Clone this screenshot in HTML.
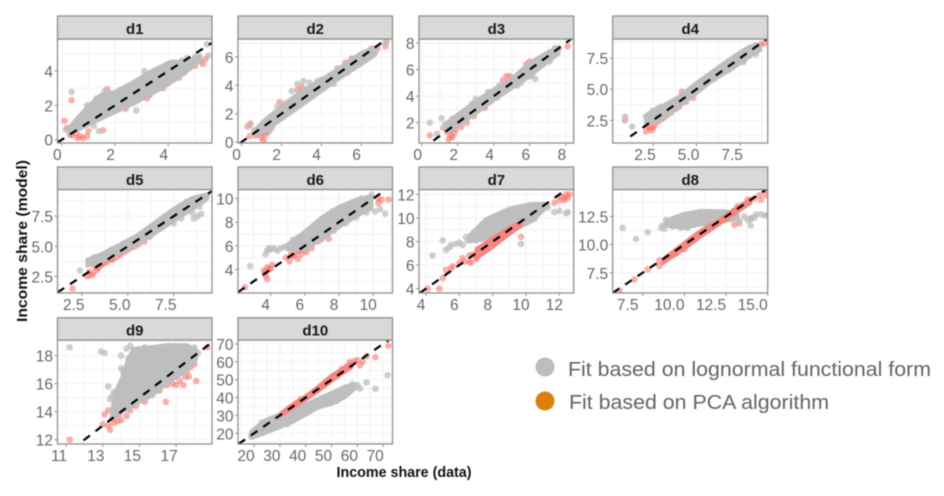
<!DOCTYPE html>
<html lang="en">
<head>
<meta charset="utf-8">
<title>Income share: model vs data</title>
<style>
html,body{margin:0;padding:0;background:#fff;width:944px;height:496px;overflow:hidden}
svg{display:block;filter:blur(.55px);font-family:"Liberation Sans",sans-serif}
</style>
</head>
<body>
<svg id="chart" width="944" height="496" viewBox="0 0 944 496">
<text x="404" y="477" text-anchor="middle" font-size="15" font-weight="bold" fill="#111" textLength="135" lengthAdjust="spacingAndGlyphs">Income share (data)</text>
<text transform="translate(27,241) rotate(-90)" text-anchor="middle" font-size="15" font-weight="bold" fill="#111" textLength="162" lengthAdjust="spacingAndGlyphs">Income share (model)</text>
<g>
<circle cx="545" cy="367" r="9.5" fill="#bdbdbd"/>
<text x="568" y="376" font-size="20" fill="#636363" textLength="363" lengthAdjust="spacingAndGlyphs">Fit based on lognormal functional form</text>
<circle cx="545" cy="401" r="9.5" fill="#de7f12"/>
<text x="569" y="409" font-size="20" fill="#636363" textLength="260" lengthAdjust="spacingAndGlyphs">Fit based on PCA algorithm</text>
</g>
</svg>
<script>
const categories = ['d1','d2','d3','d4','d5','d6','d7','d8','d9','d10'];

const xDomains = [[-0.16,5.64],[-0.18,7.55],[-0.15,8.44],[0.19,9.08],[1.18,9.58],[2.09,11.13],[3.58,12.86],[5.7,15.0],[10.53,18.96],[13.8,73.6]];
const yDomains = [[-0.19,5.86],[-0.07,7.27],[0.47,8.3],[0.68,9.03],[1.13,9.71],[2.02,10.76],[3.63,12.42],[5.7,14.9],[11.69,19.12],[14,72.2]];

const xTicks = [[0,2,4],[0,2,4,6],[0,2,4,6,8],[2.5,5,7.5],[2.5,5,7.5],[4,6,8,10],[4,6,8,10,12],[7.5,10,12.5,15],[11,13,15,17],[20,30,40,50,60,70]];
const yTicks = [[0,2,4],[0,2,4,6],[2,4,6,8],[2.5,5,7.5],[2.5,5,7.5],[4,6,8,10],[4,6,8,10,12],[7.5,10,12.5],[12,14,16,18],[20,30,40,50,60,70]];
const xTickLabels = [['0','2','4'],['0','2','4','6'],['0','2','4','6','8'],['2.5','5.0','7.5'],['2.5','5.0','7.5'],['4','6','8','10'],['4','6','8','10','12'],['7.5','10.0','12.5','15.0'],['11','13','15','17'],['20','30','40','50','60','70']];
const yTickLabels = [['0','2','4'],['0','2','4','6'],['2','4','6','8'],['2.5','5.0','7.5'],['2.5','5.0','7.5'],['4','6','8','10'],['4','6','8','10','12'],['7.5','10.0','12.5'],['12','14','16','18'],['20','30','40','50','60','70']];

/* dense core of each lognormal cloud: x, lower y, upper y */
const lognormalCoreX = [[0.3,0.9,1.44,2,2.7,3.3,4.06,4.7,5.2],[0.7,1.2,2,3,4,5,6,6.7],[1.4,2,3,4,5,6,7,7.6],[2.1,3,4,5,6,7,8,8.6],[2.8,3.5,4.5,5.5,6.5,7.5,8.5,9.3],[5,6,7,8,9,9.9],[6.6,7.6,9,10.3,11,11.3],[8.9,9.9,11,12.5,13.2],[13.5,13.7,14.05,14.4,14.7,15.6,16.5,17.6,18.1],[19,24,30,35,40,45,50,55,59]];
const lognormalCoreLow = [[0.35,0.8,1.2,1.6,2.1,2.6,3.3,4,4.6],[0.5,0.8,1.6,2.6,3.6,4.6,5.5,6.2],[1.3,1.8,2.7,3.7,4.6,5.5,6.6,7.2],[2.2,2.6,3.6,4.7,5.8,6.6,7.6,8.1],[3.4,3.7,4.4,5.2,6.1,7.1,8.1,8.9],[5.7,5.7,6.6,7.6,8.5,9.2],[8,8.2,8.8,9.7,10.6,11],[11.7,11.5,11.8,12.1,12.3],[13.6,13.6,14,14.2,14.5,15.1,16,17,17.8],[17.5,20,23.5,26.5,30.5,34.5,36.5,40,45]];
const lognormalCoreHigh = [[0.75,1.8,2.58,2.78,3.36,3.94,4.52,4.55,4.9],[0.9,1.6,2.5,3.6,4.4,5.3,6.3,6.7],[2,2.6,3.6,4.5,5.3,6.5,7.3,7.7],[2.9,3.6,4.4,5.5,6.5,7.5,8.4,8.6],[3.9,4.3,5.1,5.9,7,8.1,9,9.3],[6.1,7.2,8.4,9.3,9.9,10.2],[8.5,9.9,10.8,11.2,11.2,11.2],[12.1,12.7,13,12.95,12.6],[14,15.4,16.4,17.8,18.5,18.6,18.75,18.75,18.4],[21,27,30.5,33,36,39.5,42.5,46,47.5]];

/* dense core of the PCA cloud where it shows on top of the grey */
const pcaCoreX = [[],[],[],[],[],[],[7,8,9,9.7],[8.7,10,11,12,13,14],[],[30,35,40,45,50,55,58]];
const pcaCoreLow = [[],[],[],[],[],[],[6.5,7.5,8.6,9.3],[8.3,9.6,10.7,11.7,12.7,13.7],[],[29.5,34,38.5,43.5,49,54,57]];
const pcaCoreHigh = [[],[],[],[],[],[],[7.4,8.3,9.2,9.7],[8.7,10.2,11.3,12.1,13.2,14.1],[],[31,36.5,41,46.5,52.5,57,60]];

/* individually visible points [x, y] */
const lognormalPoints = [
 [[0.37,2.78],[0.25,0.6],[1.3,2.4],[1.6,2.8],[5.45,5.55],[5.5,4.9],[5,4.8],[4.5,4.6],[3.1,4],[2.8,1.7],[1.4,0.5],[0.95,2],[1.15,1.9],[3.6,4.1],[4.2,4.5],[4.7,4.75],[2.2,2.9],[0.15,0.6],[1.2,0.8],[2.4,2],[3.5,3.1],[4.4,3.9],[5.1,4.7],[1.8,2.7]],
 [[7.2,7],[0.4,1.2],[0.6,0.8],[1.4,0.8],[3.1,4.3],[3.4,4.2],[3.8,4.3],[4,4.4],[2.5,3.6],[1.8,2.5],[6.7,6.4],[2.8,4.1],[6.3,6],[4.6,4.1],[2.6,3],[3.4,3.8],[5.3,4.9],[4.4,4.6],[6.6,6.2]],
 [[0.45,2],[1.1,2.35],[0.85,1.15],[1.5,1.9],[3,3.8],[1.3,1.9],[6.3,5.3],[5.5,5],[2.2,2.6],[4.3,4.8],[7.1,6.6],[6.1,5.5],[5.3,4.8],[4.2,3.9],[1.7,2.3],[2.6,3.1],[7.4,7.1]],
 [[0.9,2.8],[1.3,2],[2.1,2.8],[2.5,3.3],[3,3.6],[3.4,3.8],[8.4,7.8],[7.7,7.2],[6,5.8],[2.3,3],[2.8,3.5],[3.7,4],[8.6,8.2],[6.6,6.8],[5.4,5.4]],
 [[2.4,3],[8.8,7.5],[9,7.7],[8.6,7.3],[7.5,6.9],[2.9,3.7],[3.3,4],[7,7.5],[8.2,8.7],[8.5,7.8],[8.9,8.3],[7.9,7.3],[6.3,6.6],[5.7,5.7],[4,4.4]],
 [[2.8,4.3],[3.7,5.3],[3.9,5.8],[4.2,5.8],[4.6,5.8],[5,6],[10.1,8.9],[10.7,8.7],[9.6,8.8],[9.9,10.3],[10.4,9.1],[5.3,6.5],[3.8,5.6],[9.3,10],[9,8.4],[5.6,6.7],[4,5.7],[4.4,5.6],[4.8,5.9],[5.2,6.2],[6.6,7.7],[7.6,8.9],[9.8,9.2],[8.4,7.9]],
 [[4.4,6.8],[5,8.1],[5.2,7.3],[5.5,7.7],[6,7.9],[6.5,8.1],[6.2,7.7],[5.8,7.8],[5.4,7.5],[12,10.6],[12.4,10.4],[12.5,10.5],[9.7,7.8],[10.5,9.9],[11.7,10.5],[7.2,8.4],[7,8.1],[11.3,10.9],[6.8,8.3],[6.4,8.4],[7.2,9.1],[8,9.9],[8.6,10.4]],
 [[6.3,11.5],[7.1,10.5],[7.8,11.1],[8.6,11.5],[8.8,11.4],[9.2,12.1],[9.8,11.5],[14,12.3],[14.8,12.6],[14.6,12.7],[14.2,12.4],[13.98,11.7],[13.3,12.1],[15,12.6],[14.3,12.7],[8.7,11.7],[9.3,11.6],[9.1,11.8],[8.9,12.2],[9.5,12.4],[10.2,11.5],[13.6,12.5],[13.8,12.2]],
 [[11.2,18.6],[12.9,18.3],[13.1,18.2],[13.3,15.8],[13.6,15.4],[13.4,14.9],[14.1,16.9],[14.3,16.4],[14,18],[14.3,18.5],[14.5,18.7],[14.7,18.4],[14,17.1],[17.5,18.6],[18,18.6],[13.5,15.1],[14.4,17.8],[16.6,18.7],[16.9,18.7],[13.7,14.6],[14.2,15.9],[14.9,18.3],[15.3,18.6],[18.2,18.2]],
 [[71.7,52.5],[63.5,48.5],[67,45],[60,47],[58,47.5],[61,45],[23,25],[25,26.5],[27,27],[19,19],[56,44],[33,25],[21,21],[23,26],[26,27.5],[29,29.5],[52,38],[38,30],[58,46]]
];
const pcaPoints = [
 [[0.37,2.3],[0.1,1.1],[0.2,0.7],[0.4,0.25],[0.6,0.1],[0.8,0.1],[0.95,0.2],[0.7,0.2],[0.55,0.35],[1,0.5],[1.55,0.55],[1.7,2.95],[1,1.9],[1.4,2.4],[0.8,1.5],[3.2,2.4],[4,3.3],[4.4,3.6],[4.6,3.9],[4.8,4.2],[5,4.3],[5.3,4.4],[5.4,4.7],[5.2,4.6],[4.2,3.5],[3.8,3],[3.3,2.6],[2.4,1.8],[0.3,0.3]],
 [[0.3,1.1],[0.45,1.3],[0.4,0.4],[0.7,0.45],[1,0.3],[1.2,0.5],[1.1,0.1],[1.3,0.7],[1.5,1],[1.1,0.7],[1.9,2.8],[2.2,2.7],[2.8,3.7],[3,3.9],[3.2,3.5],[4.8,5.2],[5.2,5.6],[5.5,5.9],[6,6.1],[6.5,6.6],[6.8,6.6],[7.2,6.75],[7.25,7.1],[1.2,0.9],[0.9,0.6]],
 [[0.45,1.05],[1.2,1.6],[1.5,0.75],[1.6,1],[1.8,1.2],[1.4,1.3],[1.9,1.5],[2.2,1.7],[2.5,2],[2.8,3.4],[3.7,4.3],[4.7,5.5],[4.9,5.5],[4.5,5.2],[5.8,6.4],[6,6.6],[7.4,7.6],[7.6,7.6],[8.1,7.75],[3.5,3.1],[2.9,2.5],[1.7,0.9],[1.6,1.4]],
 [[0.9,2.5],[2.1,1.6],[2.4,1.7],[2.3,1.9],[2.6,2.1],[3,2.6],[3.5,3.1],[4,3.6],[4.4,4],[4.15,4.8],[4.8,4.3],[6.6,7],[7.6,7.2],[8.4,8.5],[8.7,8.6],[8.9,8.7],[2.8,2.4],[3.3,2.9],[3.8,3.4],[2.2,2],[2.5,1.9],[3.1,2.7]],
 [[2.8,2.5],[3,2.6],[2.9,2.9],[3.3,3],[3.5,3.4],[3.9,3.7],[4.2,3.9],[4.6,4.3],[5,4.7],[5.4,5],[5.9,5.4],[6.2,5.8],[3.2,4.1],[3.6,3.5],[2,1.5],[9,9.1],[9.3,9.2],[4,4],[4.8,4.5],[5.2,4.9],[3.1,2.7],[4.4,4.1],[5.6,5.2],[3.4,3.2],[3.7,3.6],[4.1,3.9],[3.2,3.3],[4.5,4.4],[5.1,4.9]],
 [[2.5,2.5],[3.6,3.9],[3.8,4.2],[3.7,3.5],[3.8,3.2],[4.1,4.4],[4.9,5],[5.1,4.7],[5.3,5.1],[5.5,5.5],[5.8,5.3],[6,5.7],[5.6,4.9],[6.2,6],[6.5,6.3],[7.2,6.9],[7.7,7.3],[8,7.8],[10.3,9.6],[10.5,9.9],[10.9,9.9],[10.3,10],[6.1,5.5],[5.9,6],[6.8,6.4],[3.9,4],[5.2,5.3],[3.7,3.8],[4,4.1],[5.4,5.2],[5.7,5.6],[6.4,5.8],[7,6.6],[7.4,6.6]],
 [[4.1,4],[4.8,4],[5,4.9],[5.2,5.6],[5.5,5.7],[5.6,5.9],[6,6.2],[6.3,6.3],[6.6,6.3],[6.8,6.9],[7,6.5],[9.7,8.4],[11.2,11.1],[12,11.5],[12.3,11.7],[12.5,11.7],[12.6,12],[12.4,12],[11.7,11.3],[6.2,6.6],[6.7,6.2],[6.6,6.8],[12.3,11.5],[12.1,11.8]],
 [[6.1,5.9],[7,6.9],[7.8,7.8],[8.5,8.6],[8.5,8.1],[9,8.9],[13,11.75],[13.3,11.9],[13.5,13.5],[14,12.35],[14.5,14.4],[14.6,14],[14.9,14.4],[14.9,14.8],[13.2,13.4],[13.8,14],[14.2,14.1],[9.5,9.2],[10,9.6]],
 [[11.2,12],[13.1,13.8],[13.3,14.1],[13.3,13],[13.4,12.7],[13,13.1],[13.5,13.5],[14,13.4],[14.3,13.7],[14.5,14.1],[15,14.8],[15.3,14.7],[15.7,15.2],[16.44,14.7],[17,15.9],[17.2,16.2],[17.4,15.9],[17.5,16.5],[17.6,16.9],[17.3,17],[17.8,17.2],[18.1,16.2],[17.9,17.8],[18.7,18.6],[18,17.4],[16.8,16],[13.8,13.3],[14.8,14.4],[16.1,15.5],[17.7,16.5],[13.6,13.2],[13.9,13.8],[17.5,17.4],[16.5,15.9]],
 [[19,18],[20,19],[32,32],[60,61],[63.5,63],[67,62.5],[72,69],[61,58],[57,60],[59,60.5],[62,60],[34,34.5],[28,28.5],[38,39],[54,56],[56,57.5]]
];

/* where the dashed y = x reference line starts */
const refLineStart = [-0.16,-0.07,0.65,1.2,1.18,2.09,3.63,5.7,11.95,14];

const NS = 'http://www.w3.org/2000/svg';
const svg = document.getElementById('chart');
const colX = [[57.5,212],[238,392.5],[419,573.7],[612.7,767.7]];
const rowY = [[16,39,143],[167,189.5,293],[317.7,340,444]];
const labelShift = [-4.5,-5,-4,-8,-8,-5,-5,-15,-7,-8];

function mk(tag, attrs, parent, text){
  const el = document.createElementNS(NS, tag);
  for (const k in attrs) el.setAttribute(k, attrs[k]);
  if (text !== undefined) el.textContent = text;
  parent.appendChild(el);
  return el;
}
function gridValues(ticks, dom){
  const step = ticks.length > 1 ? ticks[1]-ticks[0] : 1;
  const out = [];
  for (let v = ticks[0]-step*4; v <= dom[1]; v += step/2){
    if (v >= dom[0]) out.push(v);
  }
  return out;
}
function bandPath(xs, lo, hi, sx, sy){
  const top = xs.map((x,i)=>sx(x).toFixed(1)+','+sy(hi[i]).toFixed(1));
  const bot = xs.map((x,i)=>sx(x).toFixed(1)+','+sy(lo[i]).toFixed(1)).reverse();
  return 'M'+top.concat(bot).join('L')+'Z';
}

categories.forEach(function(name, i){
  const col = colX[i % 4], row = rowY[i < 8 ? Math.floor(i/4) : 2];
  const L = col[0], R = col[1], S = row[0], T = row[1], B = row[2];
  const xd = xDomains[i], yd = yDomains[i];
  const sx = v => L + (v - xd[0]) / (xd[1] - xd[0]) * (R - L);
  const sy = v => B - (v - yd[0]) / (yd[1] - yd[0]) * (B - T);

  const g = mk('g', {}, svg);
  
  

  const clip = mk('clipPath', {id:'clip-'+name}, g);
  mk('rect', {x:L, y:T, width:R-L, height:B-T}, clip);

  const bg = mk('rect', {x:L, y:T, width:R-L, height:B-T, fill:'#fff'}, g);
  
  

  const grid = mk('g', {stroke:'#f1f1f4', 'stroke-width':1}, g);
  
  
  gridValues(xTicks[i], xd).forEach(v => mk('line', {x1:sx(v), x2:sx(v), y1:T, y2:B}, grid));
  gridValues(yTicks[i], yd).forEach(v => mk('line', {x1:L, x2:R, y1:sy(v), y2:sy(v)}, grid));

  const plot = mk('g', {'clip-path':'url(#clip-'+name+')'}, g);

  const pinkPts = mk('g', {fill:'#f8766d', 'fill-opacity':0.58}, plot);
  
  
  pcaPoints[i].forEach(function(p){
    mk('circle', {cx:sx(p[0]), cy:sy(p[1]), r:3.3}, pinkPts);
  });

  const grayCore = mk('path', {d:bandPath(lognormalCoreX[i], lognormalCoreLow[i], lognormalCoreHigh[i], sx, sy), fill:'#bebebe', stroke:'#bebebe', 'stroke-width':4, 'stroke-linejoin':'round'}, plot);
  
  

  const grayPts = mk('g', {fill:'#bdbdbd', 'fill-opacity':0.75}, plot);
  
  
  lognormalPoints[i].forEach(function(p){
    mk('circle', {cx:sx(p[0]), cy:sy(p[1]), r:3.3}, grayPts);
  });

  if (pcaCoreX[i].length){
    const pinkCore = mk('path', {d:bandPath(pcaCoreX[i], pcaCoreLow[i], pcaCoreHigh[i], sx, sy), fill:'#f5857e', stroke:'#f5857e', 'stroke-width':3, 'stroke-linejoin':'round'}, plot);
    
    
  }

  const start = refLineStart[i];
  const end = Math.max(xd[1], yd[1]);
  const ref = mk('line', {x1:sx(start), y1:sy(start), x2:sx(end), y2:sy(end), stroke:'#000', 'stroke-width':2.2, 'stroke-dasharray':'8 7'}, plot);
  
  

  const border = mk('rect', {x:L, y:T, width:R-L, height:B-T, fill:'none', stroke:'#8f8f8f', 'stroke-width':1.3}, g);
  
  

  const strip = mk('rect', {x:L, y:S, width:R-L, height:T-S, fill:'#d9d9d9', stroke:'#8f8f8f', 'stroke-width':1.3}, g);
  
  
  const title = mk('text', {x:(L+R)/2, y:S+17.8, 'text-anchor':'middle', 'font-size':15, 'font-weight':'bold', fill:'#1a1a1a'}, g, name);
  
  

  xTicks[i].forEach(function(v, k){
    const x = sx(v);
    const tick = mk('line', {x1:x, x2:x, y1:B, y2:B+3, stroke:'#8f8f8f', 'stroke-width':1}, g);
    
    
    const lab = mk('text', {x:x + labelShift[i], y:B+17, 'text-anchor':'middle', 'font-size':15.5, fill:'#666'}, g, xTickLabels[i][k]);
    
    
  });
  yTicks[i].forEach(function(v, k){
    const y = sy(v);
    const tick = mk('line', {x1:L-3, x2:L, y1:y, y2:y, stroke:'#8f8f8f', 'stroke-width':1}, g);
    
    
    const lab = mk('text', {x:L-4.5, y:y+6, 'text-anchor':'end', 'font-size':15.5, fill:'#666'}, g, yTickLabels[i][k]);
    
    
  });
});
</script>
</body>
</html>
